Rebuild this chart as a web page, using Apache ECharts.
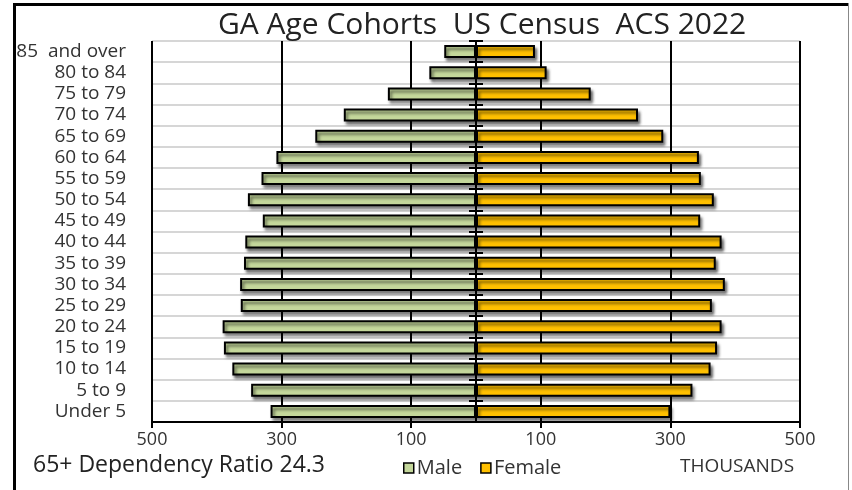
<!DOCTYPE html>
<html>
<head>
<meta charset="utf-8">
<script src="https://cdn.jsdelivr.net/npm/echarts@6/dist/echarts.min.js"></script>
<style>
  html, body { margin: 0; padding: 0; background: #fff; }
  #chart { width: 852px; height: 490px; }
</style>
</head>
<body>
<div id="chart"></div>
<script>
// Georgia population by five-year age cohort, in thousands (ACS 2022).
// Arrays run from the youngest cohort (bottom row) to the oldest (top row).
const ageGroups = ['Under 5', '5 to 9', '10 to 14', '15 to 19', '20 to 24', '25 to 29',
  '30 to 34', '35 to 39', '40 to 44', '45 to 49', '50 to 54', '55 to 59', '60 to 64',
  '65 to 69', '70 to 74', '75 to 79', '80 to 84', '85  and over'];
const maleK = [317, 347, 376, 389, 391, 363, 364, 358, 356, 329, 352, 331, 308, 248, 204, 136, 72, 49];
const femaleK = [300, 334, 362, 372, 379, 364, 384, 370, 379, 346, 367, 347, 344, 289, 250, 177, 109, 91];
const xTickValues = [-500, -300, -100, 100, 300, 500];

const titleText = 'GA Age Cohorts  US Census  ACS 2022';
const ratioText = '65+ Dependency Ratio 24.3';
const unitText = 'THOUSANDS';

const FONT = '"Open Sans", sans-serif';
const TEXT = '#333';

// plot box
const PLOT = { left: 152, right: 52, top: 41, bottom: 68 };
const W = 852;
const zeroX = PLOT.left + (W - PLOT.left - PLOT.right) / 2;

const chart = echarts.init(document.getElementById('chart'), null, { renderer: 'canvas' });

// The spine at zero: two half-width grids whose inner edges meet at 0,
// each carrying a category axis whose ticks point away from the spine.
const spineAxis = (gridIndex, position) => ({
  type: 'category',
  gridIndex: gridIndex,
  data: ageGroups,
  position: position,
  z: 10,
  axisLine: { show: true, onZero: false, lineStyle: { color: '#000', width: 2 } },
  axisTick: { show: true, inside: true, length: 7, lineStyle: { color: '#000', width: 2 } },
  axisLabel: { show: false },
  splitLine: { show: false }
});
const hiddenX = (gridIndex) => ({ type: 'value', gridIndex: gridIndex, show: false, min: 0, max: 1 });

const barStyle = (fill) => ({
  color: fill, borderColor: '#000', borderWidth: 2,
  shadowBlur: 3, shadowColor: 'rgba(0,0,0,0.55)', shadowOffsetX: 2, shadowOffsetY: 3
});

chart.setOption({
  animation: false,
  backgroundColor: '#fff',
  textStyle: { fontFamily: FONT },
  title: {
    text: titleText,
    left: 213,
    top: 5,
    textStyle: { fontFamily: FONT, fontSize: 30, fontWeight: 'normal', color: '#222' }
  },
  legend: {
    data: ['Male', 'Female'],
    left: 398,
    top: 453,
    icon: 'rect',
    itemWidth: 10,
    itemHeight: 10,
    itemGap: 18,
    textStyle: { fontFamily: FONT, fontSize: 20, color: TEXT, padding: [0, 0, 0, -2] },
    itemStyle: { borderColor: '#000', borderWidth: 1.5, shadowBlur: 0, shadowOffsetX: 0, shadowOffsetY: 0 }
  },
  grid: [
    { left: PLOT.left, right: PLOT.right, top: PLOT.top, bottom: PLOT.bottom, containLabel: false },
    { left: zeroX, right: PLOT.right, top: PLOT.top, bottom: PLOT.bottom, containLabel: false },
    { left: PLOT.left, right: W - zeroX, top: PLOT.top, bottom: PLOT.bottom, containLabel: false }
  ],
  xAxis: [
    {
      type: 'value',
      gridIndex: 0,
      min: -500,
      max: 500,
      interval: 100,
      axisLine: { show: true, onZero: false, lineStyle: { color: '#000', width: 2 } },
      axisTick: { show: true, customValues: xTickValues, length: 6, lineStyle: { color: '#000', width: 2 } },
      axisLabel: {
        customValues: xTickValues,
        formatter: (v) => String(Math.abs(v)),
        fontFamily: FONT, fontSize: 18, color: TEXT, margin: 9
      },
      splitLine: { show: false }
    },
    // evenly spaced rules at ±500, ±300, ±100 (boundaryGap off spans the whole value range)
    {
      type: 'category',
      gridIndex: 0,
      data: xTickValues,
      boundaryGap: false,
      position: 'bottom',
      axisLine: { show: false },
      axisTick: { show: false },
      axisLabel: { show: false },
      splitLine: { show: true, lineStyle: { color: '#000', width: 2 } }
    },
    hiddenX(1),
    hiddenX(2)
  ],
  yAxis: [
    {
      type: 'category',
      gridIndex: 0,
      data: ageGroups,
      position: 'left',
      axisLine: { show: false, onZero: false },
      axisTick: { show: false },
      axisLabel: { interval: 0, fontFamily: FONT, fontSize: 19, color: TEXT, margin: 26 },
      splitLine: { show: true, interval: 0, lineStyle: { color: '#d6d6d6', width: 2 } }
    },
    spineAxis(1, 'left'),
    spineAxis(2, 'right')
  ],
  series: [
    {
      name: 'Male',
      type: 'bar',
      stack: 'pop',
      xAxisIndex: 0,
      yAxisIndex: 0,
      barWidth: 13,
      data: maleK.map((v) => -v),
      itemStyle: barStyle('#c4d79b')
    },
    {
      name: 'Female',
      type: 'bar',
      stack: 'pop',
      xAxisIndex: 0,
      yAxisIndex: 0,
      barWidth: 13,
      data: femaleK,
      itemStyle: barStyle('#ffc000')
    }
  ],
  graphic: [
    // outer frame of the chart area
    { type: 'line', shape: { x1: 14.5, y1: 3, x2: 14.5, y2: 490 }, style: { stroke: '#000', lineWidth: 3 }, z: 10 },
    { type: 'line', shape: { x1: 13, y1: 4.5, x2: 849, y2: 4.5 }, style: { stroke: '#000', lineWidth: 3 }, z: 10 },
    { type: 'line', shape: { x1: 848.5, y1: 3, x2: 848.5, y2: 490 }, style: { stroke: '#888', lineWidth: 1 }, z: 10 },
    {
      type: 'text', left: 33, top: 454,
      style: { text: ratioText, font: '23px "Open Sans", sans-serif', fill: '#222' }
    },
    {
      type: 'text', left: 680, top: 457,
      style: { text: unitText, font: '19px "Open Sans", sans-serif', fill: TEXT }
    }
  ]
});
</script>
</body>
</html>
